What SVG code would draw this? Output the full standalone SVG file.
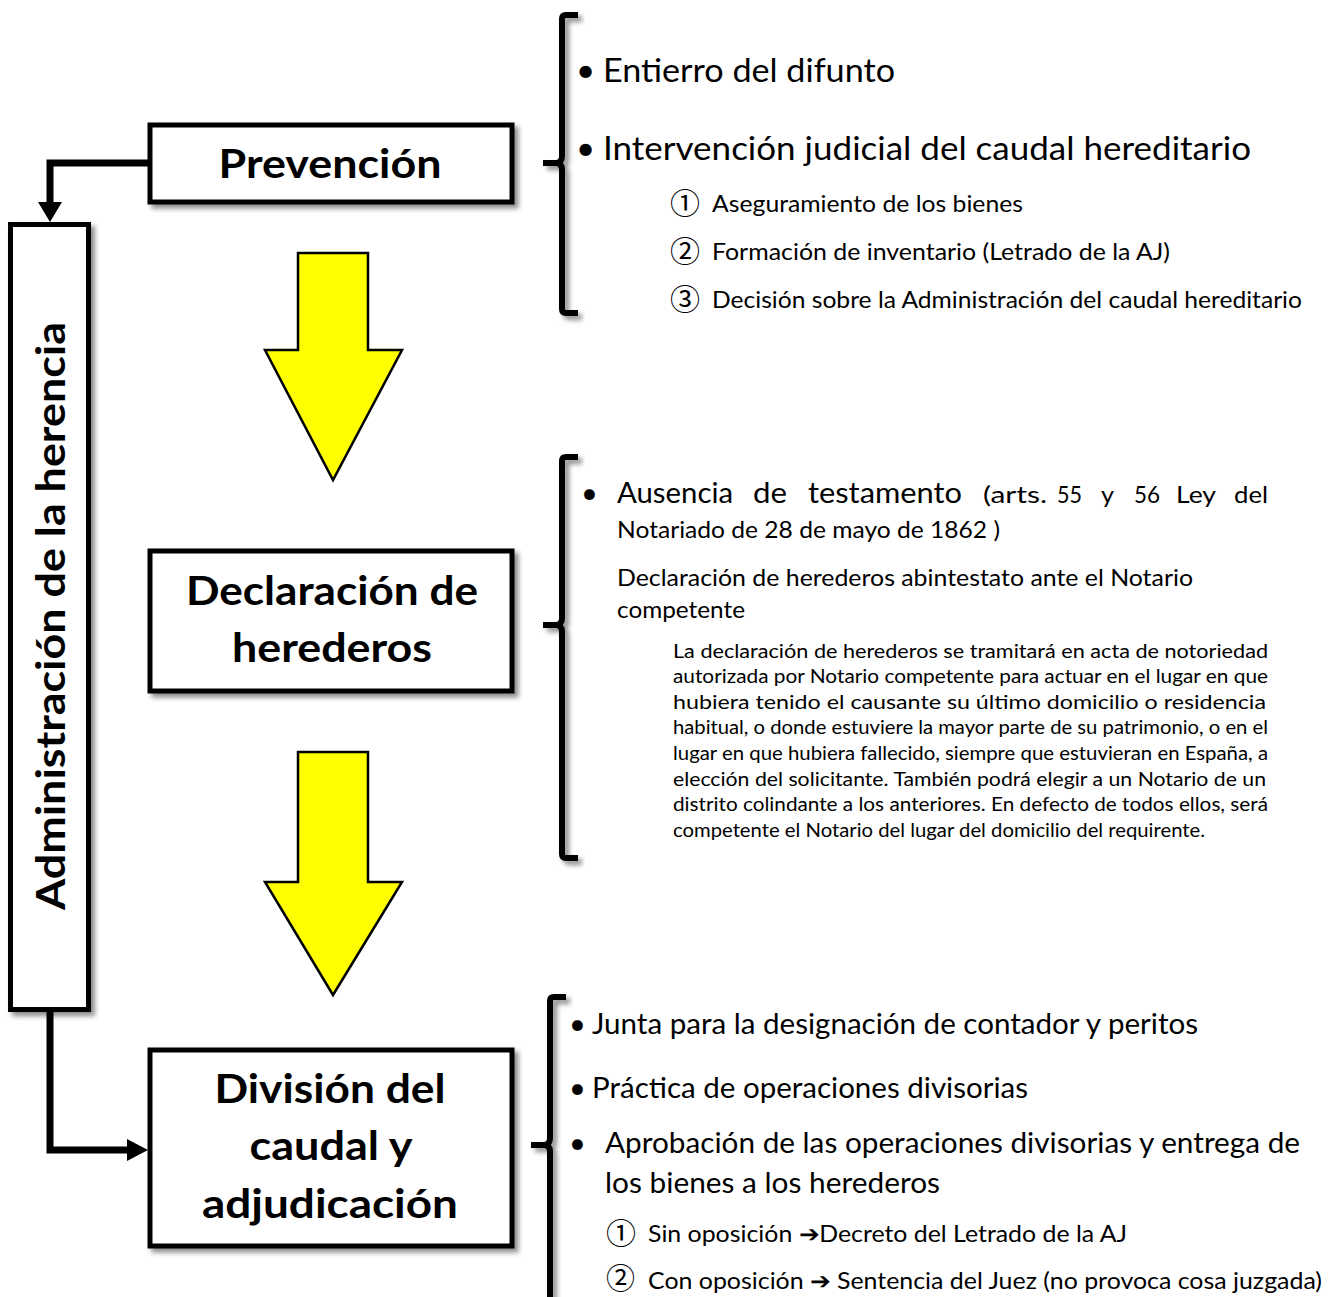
<svg xmlns="http://www.w3.org/2000/svg" width="1336" height="1297" viewBox="0 0 1336 1297">
<defs>
<style>
.box{fill:#fff;stroke:#000;stroke-width:5}
.title{font-family:Lato,"Liberation Sans",sans-serif;font-weight:bold;font-size:40px;fill:#000;text-anchor:middle}
.t{font-family:Lato,"Liberation Sans",sans-serif;fill:#000}
.l{font-size:33px}
.m{font-size:29px}
.s{font-size:23px}
.p{font-size:18.5px}
.num{font-family:"Noto Sans CJK JP","DejaVu Sans",sans-serif;font-size:30px;fill:#000}
.br{fill:none;stroke:#000;stroke-width:6;stroke-linejoin:round;stroke-linecap:butt}
.conn{fill:none;stroke:#000;stroke-width:7}
.yarrow{fill:#ffff00;stroke:#000;stroke-width:2.5}
</style>
<filter id="sh" x="-10%" y="-10%" width="130%" height="130%">
<feDropShadow dx="4" dy="4" stdDeviation="2.5" flood-color="#000" flood-opacity="0.45"/>
</filter>
</defs>
<rect width="1336" height="1297" fill="#fff"/>

<g id="connectors">
<path class="conn" d="M150,163 H50 V205"/>
<path d="M38,202 L62,202 L50,222 Z" fill="#000"/>
<path class="conn" d="M50,1010 V1150 H130"/>
<path d="M127,1139 L148,1150 L127,1161 Z" fill="#000"/>
</g>

<g id="arrow1"><path class="yarrow" d="M298,253 H368 V350 H402 L333,480 L265,350 H298 Z"/></g>
<g id="arrow2"><path class="yarrow" d="M298,752 H368 V882 H402 L333,995 L265,882 H298 Z"/></g>

<g id="admin">
<rect class="box" x="10.5" y="224.5" width="78" height="785" filter="url(#sh)"/>
<text class="title" transform="translate(65,616) rotate(-90)" textLength="588" lengthAdjust="spacingAndGlyphs">Administración de la herencia</text>
</g>

<g id="prevencion">
<rect class="box" x="150" y="125" width="362" height="77" filter="url(#sh)"/>
<text class="title" x="330" y="178" textLength="223" lengthAdjust="spacingAndGlyphs">Prevención</text>
</g>

<g id="declaracion">
<rect class="box" x="150" y="551" width="362" height="140" filter="url(#sh)"/>
<text class="title" x="332" y="605" textLength="292" lengthAdjust="spacingAndGlyphs">Declaración de</text>
<text class="title" x="332" y="662" textLength="200" lengthAdjust="spacingAndGlyphs">herederos</text>
</g>

<g id="division">
<rect class="box" x="150" y="1050" width="362" height="196" filter="url(#sh)"/>
<text class="title" x="330" y="1103" textLength="231" lengthAdjust="spacingAndGlyphs">División del</text>
<text class="title" x="331" y="1160" textLength="163" lengthAdjust="spacingAndGlyphs">caudal y</text>
<text class="title" x="330" y="1218" textLength="256" lengthAdjust="spacingAndGlyphs">adjudicación</text>
</g>

<g id="bracket1">
<path class="br" filter="url(#sh)" d="M578,15 H566 Q562,15 562,19 V156 Q562,163 556,163 H543 M556,163 Q562,163 562,170 V309 Q562,313 566,313 H578"/>
</g>
<g id="bracket2">
<path class="br" filter="url(#sh)" d="M578,457 H566 Q562,457 562,461 V618 Q562,625 556,625 H543 M556,625 Q562,625 562,632 V854 Q562,858 566,858 H578"/>
</g>
<g id="bracket3">
<path class="br" filter="url(#sh)" d="M566,997 H554 Q550,997 550,1001 V1138 Q550,1145 544,1145 H531 M544,1145 Q550,1145 550,1152 V1300"/>
</g>

<g id="list1">
<text class="t l" x="576" y="82">•</text>
<text class="t l" x="603" y="82" textLength="292" lengthAdjust="spacingAndGlyphs">Entierro del difunto</text>
<text class="t l" x="576" y="160">•</text>
<text class="t l" x="603" y="160" textLength="648" lengthAdjust="spacingAndGlyphs">Intervención judicial del caudal hereditario</text>
<text class="num" x="670" y="214">①</text>
<text class="t s" x="712" y="212" textLength="311" lengthAdjust="spacingAndGlyphs">Aseguramiento de los bienes</text>
<text class="num" x="670" y="262">②</text>
<text class="t s" x="712" y="260" textLength="458" lengthAdjust="spacingAndGlyphs">Formación de inventario (Letrado de la AJ)</text>
<text class="num" x="670" y="310">③</text>
<text class="t s" x="712" y="308" textLength="590" lengthAdjust="spacingAndGlyphs">Decisión sobre la Administración del caudal hereditario</text>
</g>

<g id="list2">
<text class="t m" x="581" y="503">•</text>
<text class="t m" x="617" y="503" textLength="116" lengthAdjust="spacingAndGlyphs">Ausencia</text>
<text class="t m" x="753" y="503" textLength="34" lengthAdjust="spacingAndGlyphs">de</text>
<text class="t m" x="808" y="503" textLength="154" lengthAdjust="spacingAndGlyphs">testamento</text>
<text class="t s" x="983" y="503" textLength="64" lengthAdjust="spacingAndGlyphs">(arts.</text>
<text class="t s" x="1057" y="503" textLength="25" lengthAdjust="spacingAndGlyphs">55</text>
<text class="t s" x="1101" y="503" textLength="13" lengthAdjust="spacingAndGlyphs">y</text>
<text class="t s" x="1134" y="503" textLength="26" lengthAdjust="spacingAndGlyphs">56</text>
<text class="t s" x="1176" y="503" textLength="40" lengthAdjust="spacingAndGlyphs">Ley</text>
<text class="t s" x="1234" y="503" textLength="34" lengthAdjust="spacingAndGlyphs">del</text>
<text class="t s" x="617" y="538" textLength="383" lengthAdjust="spacingAndGlyphs">Notariado de 28 de mayo de 1862 )</text>
<text class="t s" x="617" y="586" textLength="576" lengthAdjust="spacingAndGlyphs">Declaración de herederos abintestato ante el Notario</text>
<text class="t s" x="617" y="618" textLength="128" lengthAdjust="spacingAndGlyphs">competente</text>
<text class="t p" x="673" y="658" textLength="595" lengthAdjust="spacingAndGlyphs">La declaración de herederos se tramitará en acta de notoriedad</text>
<text class="t p" x="673" y="683" textLength="595" lengthAdjust="spacingAndGlyphs">autorizada por Notario competente para actuar en el lugar en que</text>
<text class="t p" x="673" y="709" textLength="593" lengthAdjust="spacingAndGlyphs">hubiera tenido el causante su último domicilio o residencia</text>
<text class="t p" x="673" y="734" textLength="595" lengthAdjust="spacingAndGlyphs">habitual, o donde estuviere la mayor parte de su patrimonio, o en el</text>
<text class="t p" x="673" y="760" textLength="595" lengthAdjust="spacingAndGlyphs">lugar en que hubiera fallecido, siempre que estuvieran en España, a</text>
<text class="t p" x="673" y="786" textLength="593" lengthAdjust="spacingAndGlyphs">elección del solicitante. También podrá elegir a un Notario de un</text>
<text class="t p" x="673" y="811" textLength="595" lengthAdjust="spacingAndGlyphs">distrito colindante a los anteriores. En defecto de todos ellos, será</text>
<text class="t p" x="673" y="837" textLength="532" lengthAdjust="spacingAndGlyphs">competente el Notario del lugar del domicilio del requirente.</text>
</g>

<g id="list3">
<text class="t m" x="569" y="1034">•</text>
<text class="t m" x="592" y="1034" textLength="606" lengthAdjust="spacingAndGlyphs">Junta para la designación de contador y peritos</text>
<text class="t m" x="569" y="1098">•</text>
<text class="t m" x="592" y="1098" textLength="436" lengthAdjust="spacingAndGlyphs">Práctica de operaciones divisorias</text>
<text class="t m" x="569" y="1153">•</text>
<text class="t m" x="605" y="1153" textLength="695" lengthAdjust="spacingAndGlyphs">Aprobación de las operaciones divisorias y entrega de</text>
<text class="t m" x="605" y="1193" textLength="335" lengthAdjust="spacingAndGlyphs">los bienes a los herederos</text>
<text class="num" x="606" y="1244">①</text>
<text class="t s" x="648" y="1242" textLength="479" lengthAdjust="spacingAndGlyphs">Sin oposición ➔Decreto del Letrado de la AJ</text>
<text class="num" x="606" y="1289" style="font-size:29px">②</text>
<text class="t s" x="648" y="1289" textLength="674" lengthAdjust="spacingAndGlyphs">Con oposición ➔ Sentencia del Juez (no provoca cosa juzgada)</text>
</g>
</svg>
